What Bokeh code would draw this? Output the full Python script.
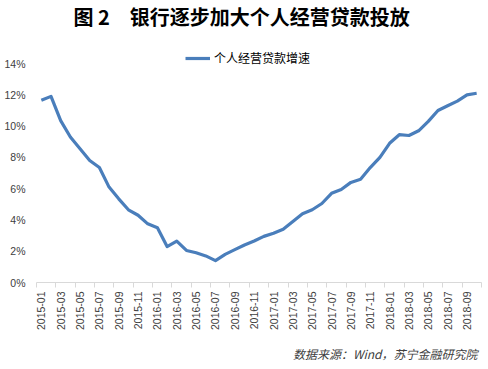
from bokeh.plotting import figure
from bokeh.models import (Range1d, FixedTicker, Legend, LegendItem, Label, Title)
from bokeh.embed import file_html
from bokeh.resources import INLINE

# ---- data ----
months = [f"{y}-{m:02d}" for y in (2015, 2016, 2017, 2018) for m in range(1, 13)][:46]
growth = [11.65, 11.9, 10.35, 9.3, 8.55, 7.8, 7.35, 6.1, 5.35, 4.65,
          4.3, 3.75, 3.5, 2.3, 2.65, 2.05, 1.9, 1.7, 1.4, 1.8,
          2.1, 2.4, 2.65, 2.95, 3.15, 3.4, 3.9, 4.4, 4.65, 5.05,
          5.7, 5.95, 6.4, 6.6, 7.35, 8.0, 8.9, 9.45, 9.4, 9.7,
          10.3, 11.0, 11.3, 11.6, 12.0, 12.1]
y_ticks = [0, 2, 4, 6, 8, 10, 12, 14]
y_labels = [f"{v}%" for v in y_ticks]
title_text = "图 2\u3000银行逐步加大个人经营贷款投放"
series_name = "个人经营贷款增速"
source_text = "数据来源：Wind，苏宁金融研究院"

xs = [i + 0.5 for i in range(len(months))]
n = len(months)

FW, FH = 445, 282
p = figure(frame_width=FW, frame_height=FH, output_backend="svg", toolbar_location=None,
           x_range=Range1d(0, n), y_range=Range1d(0, 18.03),
           min_border_left=36, min_border_right=7, min_border_top=0, min_border_bottom=0)
p.outline_line_color = None
p.xgrid.grid_line_color = None
p.ygrid.grid_line_color = None
p.background_fill_color = "white"
p.border_fill_color = "white"

line = p.line(xs, growth, line_color="#4a7ebb", line_width=3.2, line_join="round")

# x axis: labels centred on every other category, tick marks at category boundaries
label_pos = [xs[i] for i in range(0, n, 2)]
xa = p.xaxis[0]
xa.ticker = FixedTicker(ticks=label_pos, minor_ticks=list(range(0, n + 1, 2)))
xa.major_label_overrides = {xs[i]: months[i] for i in range(0, n, 2)}
xa.major_tick_line_color = None
xa.major_tick_out = 0
xa.major_tick_in = 0
xa.minor_tick_out = 5
xa.minor_tick_in = 0
xa.minor_tick_line_color = "#d9d9d9"
xa.axis_line_color = "#d9d9d9"
xa.major_label_orientation = 3.14159265 / 2
xa.major_label_text_font = "Liberation Sans"
xa.major_label_text_font_size = "10.5px"
xa.major_label_text_color = "#404040"
xa.major_label_standoff = 4

ya = p.yaxis[0]
ya.ticker = FixedTicker(ticks=y_ticks)
ya.major_label_overrides = dict(zip(y_ticks, y_labels))
ya.axis_line_color = None
ya.major_tick_line_color = None
ya.minor_tick_line_color = None
ya.major_tick_out = 0
ya.major_label_text_font = "Liberation Sans"
ya.major_label_text_font_size = "10.5px"
ya.major_label_text_color = "#404040"
ya.major_label_standoff = 11

legend = Legend(items=[LegendItem(label=series_name, renderers=[line])],
                orientation="horizontal", location=(149, 216),
                label_text_font="Noto Sans CJK SC", label_text_font_size="12px",
                label_text_color="#000000", glyph_width=25, glyph_height=14,
                label_standoff=4, padding=0, margin=0, border_line_color=None,
                background_fill_alpha=0)
p.add_layout(legend, "center")

title = Label(x=37, y=FH - 16, x_units="screen", y_units="screen", text=title_text,
              text_font="Noto Sans CJK SC", text_font_size="20px", text_font_style="bold",
              text_color="#000000", text_align="left", text_baseline="middle")
p.add_layout(title)

# source note below the axis, right aligned
src = Title(text=source_text, align="right", vertical_align="bottom", offset=4,
            text_font="Noto Sans CJK SC", text_font_size="12px", text_font_style="italic",
            text_color="#404040", standoff=18)
p.add_layout(src, "below")

open("out.html", "w").write(file_html(p, INLINE))
